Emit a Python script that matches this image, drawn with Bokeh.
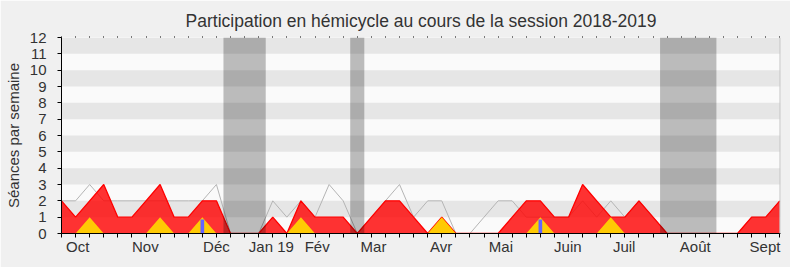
from bokeh.plotting import figure
from bokeh.models import (Range1d, FixedTicker, LinearAxis, BoxAnnotation, Span,
                          ColumnDataSource, CustomJSTickFormatter)
from bokeh.embed import file_html
from bokeh.resources import INLINE

# ---- data (one value per week of the 2018-2019 session) ----
weeks = list(range(52))
seances_depute = [2, 1, 2, 3, 1, 1, 2, 3, 1, 1, 2, 2, 0, 0, 0, 1, 0, 2, 1, 1,
                  1, 0, 1, 2, 2, 1, 0, 1, 0, 0, 0, 0, 1, 2, 2, 1, 1, 3, 2, 1,
                  1, 2, 1, 0, 0, 0, 0, 0, 0, 1, 1, 2]
seances_mediane = [2, 2, 3, 2, 2, 2, 2, 2, 2, 2, 2, 3, 0, 0, 0, 2, 1, 2, 1, 3,
                   2, 0, 1, 2, 3, 1, 2, 2, 0, 0, 1, 2, 2, 1, 1, 1, 1, 2, 1, 2,
                   1, 2, 1, 0, 0, 0, 0, 0, 0, 1, 1, 2]
interventions = [0, 0, 1, 0, 0, 0, 0, 1, 0, 0, 1, 0, 0, 0, 0, 0, 0, 1, 0, 0,
                 0, 0, 0, 0, 0, 0, 0, 1, 0, 0, 0, 0, 0, 0, 1, 0, 0, 0, 0, 1,
                 0, 0, 0, 0, 0, 0, 0, 0, 0, 0, 0, 0]
question_weeks = [10, 34]
question_values = [0.86, 0.86]
vacances_debut = [11.5, 20.5, 42.5]
vacances_fin = [14.5, 21.5, 46.5]
mois_pos = [1.15, 5.95, 11.0, 14.9, 18.15, 22.15, 26.95, 31.2, 35.95, 39.95, 45.0, 49.95]
mois_labels = ["Oct", "Nov", "Déc", "Jan 19", "Fév", "Mar", "Avr", "Mai", "Juin",
               "Juil", "Août", "Sept"]
y_ticks = list(range(13))
titre = "Participation en hémicycle au cours de la session 2018-2019"

FONT = "Liberation Sans"
TXT = "#333333"
X_END = 51.05

src = ColumnDataSource(dict(x=weeks, red=seances_depute, grey=seances_mediane,
                            yellow=interventions))

p = figure(width=790, height=267, x_range=Range1d(0, X_END), y_range=Range1d(0, 12),
           output_backend="svg", toolbar_location=None,
           min_border_left=61, min_border_right=10, min_border_top=37,
           min_border_bottom=34)
p.background_fill_color = "#fafafa"
p.border_fill_color = "#f0f0f0"
p.outline_line_color = None

p.title.text = titre
p.title.align = "center"
p.title.text_font = FONT
p.title.text_font_size = "17.5px"
p.title.text_font_style = "normal"
p.title.text_color = TXT
p.title.standoff = 11

# striped background
p.xgrid.visible = False
p.ygrid.ticker = FixedTicker(ticks=y_ticks)
p.ygrid.grid_line_color = None
p.ygrid.band_fill_color = "#e6e6e6"
p.ygrid.band_fill_alpha = 1

# series
p.line("x", "grey", source=src, line_color="#b4b4b4", line_width=1)
p.varea(x="x", y1=0, y2="red", source=src, fill_color="#ff0000", fill_alpha=0.8)
p.line("x", "red", source=src, line_color="#ff0000", line_width=1.3)
p.varea(x="x", y1=0, y2="yellow", source=src, fill_color="#ffd700", fill_alpha=0.92)
p.vbar(x=question_weeks, top=question_values, width=0.26, fill_color="#6464ff",
       line_color=None)

for a, b in zip(vacances_debut, vacances_fin):
    p.add_layout(BoxAnnotation(left=a, right=b, fill_color="#000000", fill_alpha=0.25,
                               line_color=None))

# thin shadow on the right edge of the plotting area
p.add_layout(Span(location=X_END, dimension="height", line_color="#c4c4c4",
                  line_width=2))

# x axis
xa = p.xaxis[0]
xa.ticker = FixedTicker(ticks=mois_pos, minor_ticks=weeks)
xa.formatter = CustomJSTickFormatter(args=dict(pos=mois_pos, lab=mois_labels), code="""
const i = pos.findIndex(v => Math.abs(v - tick) < 1e-6);
return i >= 0 ? lab[i] : '';
""")
xa.major_tick_out = 0
xa.major_tick_in = 0
xa.minor_tick_out = 4
xa.minor_tick_in = 0
xa.minor_tick_line_color = "#000000"
xa.axis_line_color = "#000000"
xa.major_label_standoff = 0
xa.major_label_text_font = FONT
xa.major_label_text_font_size = "15px"
xa.major_label_text_color = TXT

# y axis
ya = p.yaxis[0]
ya.ticker = FixedTicker(ticks=y_ticks)
ya.major_tick_out = 4
ya.major_tick_in = 0
ya.minor_tick_out = 0
ya.minor_tick_in = 0
ya.axis_line_color = "#000000"
ya.major_tick_line_color = "#000000"
ya.major_label_standoff = 11
ya.major_label_text_font = FONT
ya.major_label_text_font_size = "15px"
ya.major_label_text_color = TXT
ya.axis_label = "Séances par semaine"
ya.axis_label_text_font = FONT
ya.axis_label_text_font_size = "15px"
ya.axis_label_text_font_style = "normal"
ya.axis_label_text_color = TXT
ya.axis_label_standoff = 5

# top dotted ticks (minor ticks only, so no labels)
top = LinearAxis(ticker=FixedTicker(ticks=[], minor_ticks=weeks))
top.axis_line_color = None
top.major_tick_out = 0
top.major_tick_in = 0
top.minor_tick_out = 1
top.minor_tick_in = 0
top.minor_tick_line_color = "#000000"
top.major_label_standoff = 0
p.add_layout(top, "above")

open("out.html", "w").write(file_html(p, INLINE))
